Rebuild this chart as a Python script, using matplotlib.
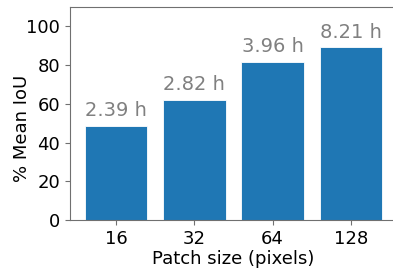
import numpy as np
from matplotlib import pyplot as plt

patch_sizes = ['16', '32', '64', '128']
mean_iou = [48.6, 62.1, 81.8, 89.1]
train_time = ['2.39 h', '2.82 h', '3.96 h', '8.21 h']

plt.rcParams['font.size'] = 13

fig = plt.figure(figsize=(3.93, 2.70), dpi=100)
ax = fig.add_axes([70 / 393, 50 / 270, 327 / 393, 213 / 270])

x = np.arange(len(patch_sizes))
bars = ax.bar(x, mean_iou, width=0.8, color='#1f77b4', edgecolor='white', linewidth=0.6)
for b, t in zip(bars, train_time):
    ax.annotate(t, (b.get_x() + b.get_width() / 2, b.get_height()),
                xytext=(0, 4), textcoords='offset points',
                ha='center', va='bottom', color='gray', fontsize=14)

ax.set_xticks(x)
ax.set_xticklabels(patch_sizes)
ax.set_ylim(0, 110)
ax.set_yticks([0, 20, 40, 60, 80, 100])
ax.set_xlabel('Patch size (pixels)', fontsize=13)
ax.set_ylabel('% Mean IoU', fontsize=13)
ax.yaxis.set_label_coords(-0.12, 0.43)
ax.xaxis.set_label_coords(0.5, -0.143)

ax.spines['right'].set_visible(False)
for s in ['left', 'bottom', 'top']:
    ax.spines[s].set_color('#707070')
ax.tick_params(color='#707070')

fig.savefig('out.png', dpi=100)
